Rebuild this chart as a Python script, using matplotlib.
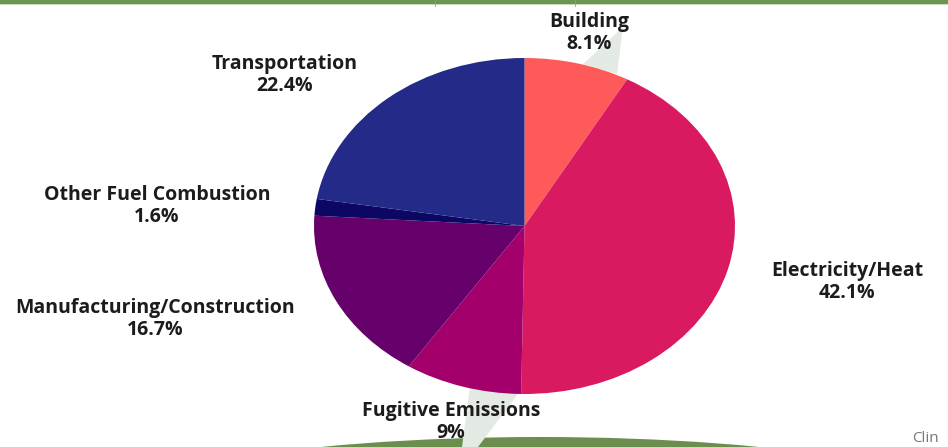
import matplotlib.pyplot as plt
from matplotlib.patches import Ellipse, Polygon

plt.rcParams['font.family'] = ['Open Sans', 'DejaVu Sans']

# emission shares by sector (%), clockwise from 12 o'clock
sectors = ['Building', 'Electricity/Heat', 'Fugitive Emissions',
           'Manufacturing/Construction', 'Other Fuel Combustion', 'Transportation']
shares = [8.1, 42.1, 9, 16.7, 1.6, 22.4]
colors = ['#FF5A5A', '#D91A61', '#A3006C', '#66006A', '#0B0763', '#242A88']

# label anchor points (pixel coords, y down)
label_pos = {
    'Building': (589, 33),
    'Electricity/Heat': (847, 282),
    'Fugitive Emissions': (451, 422),
    'Manufacturing/Construction': (155, 319),
    'Other Fuel Combustion': (157, 206),
    'Transportation': (285, 75),
}

W, H = 948, 447
fig = plt.figure(figsize=(W / 100, H / 100), dpi=100)

bg = fig.add_axes([0, 0, 1, 1])
bg.set_xlim(0, W)
bg.set_ylim(H, 0)
bg.axis('off')

# green band on top and green arc at the bottom
bg.add_patch(plt.Rectangle((0, 0), W, 3.5, color='#6E9455', lw=0))
bg.add_patch(plt.Rectangle((0, 3.5), W, 1.5, color='#C9D9BE', lw=0))
bg.plot([435, 435], [0, 6], color='#999999', lw=0.6)
bg.plot([575, 575], [0, 6], color='#999999', lw=0.6)
bg.add_patch(Ellipse((540, 520), 924, 166, color='#6B8E4E', lw=0))

# light leader wedges behind two labels
bg.add_patch(Polygon([(623, 27), (583, 64), (617, 74)], closed=True,
                     color='#E3E9E3', lw=0))
bg.add_patch(Polygon([(470, 386), (524, 386), (478, 447), (462, 447)],
                     closed=True, color='#E3E9E3', lw=0))

for name, share in zip(sectors, shares):
    x, y = label_pos[name]
    pct = f'{share:g}%'
    bg.text(x, y, f'{name}\n{pct}', ha='center', va='center', fontsize=14,
            fontweight='bold', color='#1C1C1C', linespacing=1.15)

bg.text(912, 438, 'Clin', ha='left', va='center', fontsize=11, color='#777777')

# elliptical pie: left 314, right 735, top 58, bottom 394 (pixels)
pie_ax = fig.add_axes([314 / W, (H - 394) / H, 421 / W, 336 / H])
pie_ax.pie(shares, colors=colors, startangle=90, counterclock=False,
           radius=1, wedgeprops={'linewidth': 0})
pie_ax.set_aspect('auto')
pie_ax.set_xlim(-1, 1)
pie_ax.set_ylim(-1, 1)
pie_ax.axis('off')

fig.savefig('out.png', dpi=100)
